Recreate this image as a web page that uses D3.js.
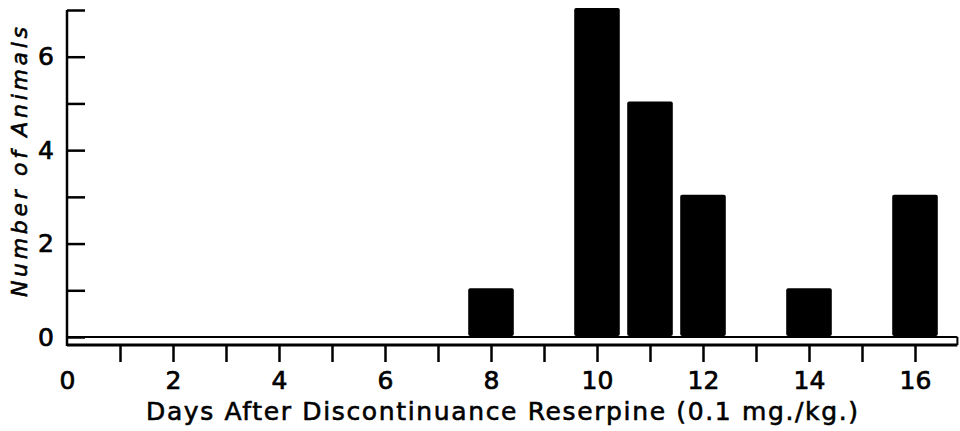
<!DOCTYPE html>
<html>
<head>
<meta charset="utf-8">
<script src="https://cdn.jsdelivr.net/npm/d3@7"></script>
<style>
  html, body { margin: 0; padding: 0; background: #fff; }
  svg { display: block; }
  text { font-family: "DejaVu Sans", sans-serif; fill: #000; }
</style>
</head>
<body>
<svg id="chart" width="960" height="431"></svg>
<script>
// ---- data ----
const days = [8, 10, 11, 12, 14, 16];
const counts = [1, 7, 5, 3, 1, 3];
const xTickValues = d3.range(0, 17);          // 0 … 16
const xTickLabels = [0, 2, 4, 6, 8, 10, 12, 14, 16];
const yTickValues = d3.range(0, 8);           // 0 … 7
const yTickLabels = [0, 2, 4, 6];
const xTitle = "Days After Discontinuance Reserpine (0.1 mg./kg.)";
const yTitle = "Number of Animals";

// ---- layout ----
const svg = d3.select("#chart");
const x = d3.scaleLinear().domain([0, 16]).range([67, 915]);
const xEnd = 16.8;
const y = d3.scaleLinear().domain([0, 7]).range([337, 10]);
const stripGap = 8;           // double baseline gap
const barHalf = 0.43;         // bar half-width in days

// bars
svg.append("g").selectAll("rect")
  .data(days.map((d, i) => ({ day: d, n: counts[i] })))
  .join("rect")
  .attr("x", d => x(d.day - barHalf))
  .attr("width", d => x(d.day + barHalf) - x(d.day - barHalf))
  .attr("y", d => y(d.n) - 2)
  .attr("height", d => y(0) - y(d.n) + 1)
  .attr("rx", 2)
  .attr("fill", "#000");

// y axis (ticks inside, labels left)
const yAxis = d3.axisLeft(y)
  .tickValues(yTickValues)
  .tickSizeInner(-18)
  .tickSizeOuter(0)
  .tickPadding(13)
  .tickFormat(d => yTickLabels.includes(d) ? d : "");
const gy = svg.append("g").attr("transform", `translate(${x(0)},0)`).call(yAxis);
gy.select(".domain").remove();
gy.selectAll(".tick line").attr("stroke", "#000").attr("stroke-width", 2.5);
gy.selectAll(".tick text")
  .style("font-family", "'DejaVu Sans', sans-serif")
  .style("font-size", "25px")
  .attr("fill", "#000").attr("stroke", "#000").attr("stroke-width", 0.7);

// x axis (ticks hang below lower baseline)
const xAxis = d3.axisBottom(x)
  .tickValues(xTickValues)
  .tickSizeInner(17)
  .tickSizeOuter(0)
  .tickPadding(9)
  .tickFormat(d => xTickLabels.includes(d) ? d : "");
const gx = svg.append("g").attr("transform", `translate(0,${y(0) + stripGap})`).call(xAxis);
gx.select(".domain").remove();
gx.selectAll(".tick line")
  .attr("stroke", "#000").attr("stroke-width", 2.5)
  .attr("display", d => d === 0 ? "none" : null);
gx.selectAll(".tick text")
  .style("font-family", "'DejaVu Sans', sans-serif")
  .style("font-size", "25px")
  .attr("fill", "#000").attr("stroke", "#000").attr("stroke-width", 0.7);

// axis frame lines
const frame = svg.append("g").attr("stroke", "#000").attr("fill", "none");
frame.append("line")      // y axis spine
  .attr("x1", x(0)).attr("x2", x(0))
  .attr("y1", y(7)).attr("y2", y(0) + stripGap + 1)
  .attr("stroke-width", 2.5);
frame.append("line")      // upper baseline
  .attr("x1", x(0)).attr("x2", x(xEnd))
  .attr("y1", y(0)).attr("y2", y(0))
  .attr("stroke-width", 2);
frame.append("line")      // lower baseline
  .attr("x1", x(0)).attr("x2", x(xEnd))
  .attr("y1", y(0) + stripGap).attr("y2", y(0) + stripGap)
  .attr("stroke-width", 3);
frame.append("line")      // strip end
  .attr("x1", x(xEnd)).attr("x2", x(xEnd))
  .attr("y1", y(0)).attr("y2", y(0) + stripGap)
  .attr("stroke-width", 2);

// titles
svg.append("text")
  .attr("x", 146).attr("y", 420)
  .attr("textLength", 712).attr("lengthAdjust", "spacing")
  .style("font-size", "25px")
  .attr("stroke", "#000").attr("stroke-width", 0.6)
  .text(xTitle);

svg.append("text")
  .attr("transform", "translate(27,297) rotate(-90)")
  .attr("textLength", 270).attr("lengthAdjust", "spacing")
  .style("font-size", "22px")
  .style("font-style", "italic")
  .attr("stroke", "#000").attr("stroke-width", 0.6)
  .text(yTitle);
</script>
</body>
</html>
